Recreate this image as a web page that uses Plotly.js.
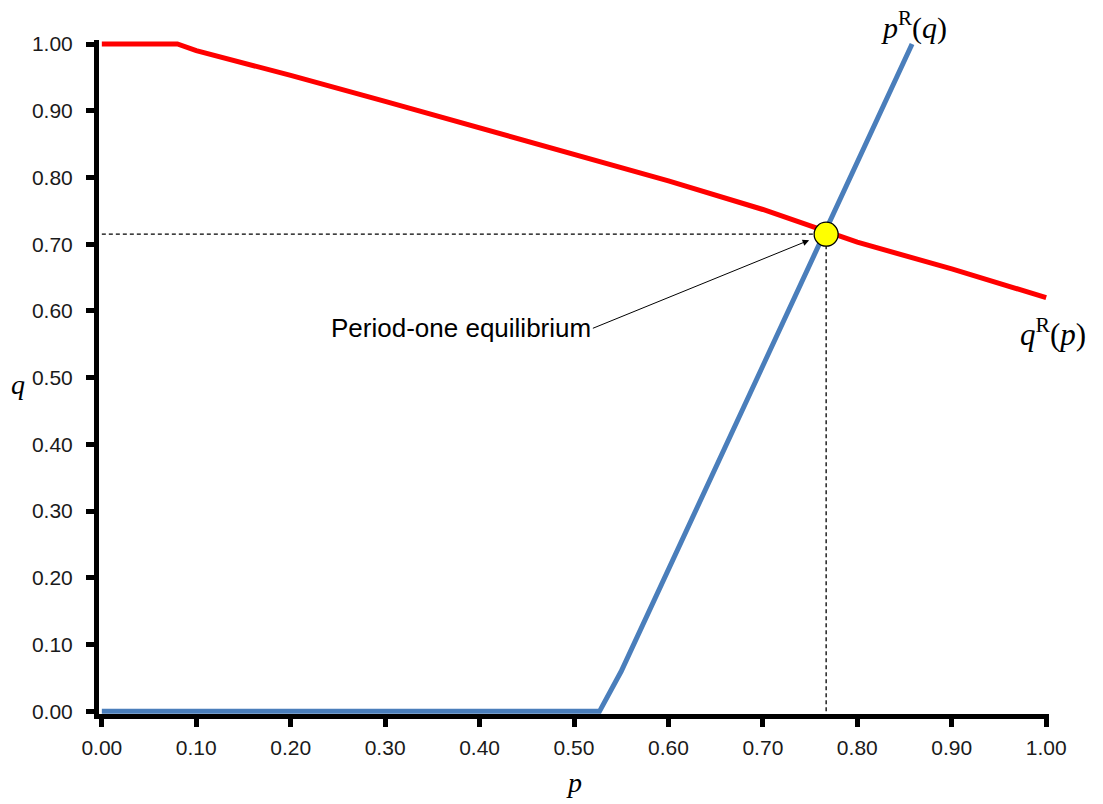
<!DOCTYPE html>
<html><head><meta charset="utf-8">
<script src="https://cdn.plot.ly/plotly-3.0.1.min.js"></script>
<style>body{margin:0;background:#fff}#chart{width:1103px;height:804px}</style>
</head><body><div id="chart"></div>
<script>
// Data
const qR_p = [0, 0.08, 0.10, 0.20, 0.30, 0.40, 0.50, 0.60, 0.70, 0.80, 0.90, 1.00];
const qR_q = [1.00, 1.00, 0.99, 0.953, 0.914, 0.874, 0.835, 0.795, 0.752, 0.703, 0.663, 0.620];
const pR_p = [0, 0.527, 0.55, 0.60, 0.70, 0.80, 0.858];
const pR_q = [0, 0, 0.06, 0.213, 0.518, 0.823, 1.00];
const eqP = [0.767];
const eqQ = [0.715];
const tickVals = [0, 0.1, 0.2, 0.3, 0.4, 0.5, 0.6, 0.7, 0.8, 0.9, 1.0];
const tickText = tickVals.map(v => v.toFixed(2));

const traces = [
  {x: [0, eqP[0]], y: [eqQ[0], eqQ[0]], mode: 'lines', line: {color: '#000', width: 1.3, dash: '4px,3px'}, hoverinfo: 'skip'},
  {x: [eqP[0], eqP[0]], y: [0, eqQ[0]], mode: 'lines', line: {color: '#000', width: 1.3, dash: '4px,3px'}, hoverinfo: 'skip'},
  {x: qR_p, y: qR_q, mode: 'lines', line: {color: '#ff0000', width: 5}, name: 'qR(p)'},
  {x: pR_p, y: pR_q, mode: 'lines', line: {color: '#4a7ebb', width: 5}, name: 'pR(q)'},
  {x: eqP, y: eqQ, mode: 'markers', marker: {color: '#ffff00', size: 24, line: {color: '#000', width: 1.3}}, cliponaxis: false}
];

const tickFont = {family: 'Liberation Sans, Arial, sans-serif', size: 21, color: '#1a1a1a'};
const plotW = 1103 - 99 - 54;
const layout = {
  width: 1103, height: 804,
  margin: {l: 99, r: 54, t: 40, b: 90},
  showlegend: false,
  paper_bgcolor: '#fff', plot_bgcolor: '#fff',
  xaxis: {range: [-0.003, 1.003], tickvals: tickVals, ticktext: tickText, showgrid: false, zeroline: false,
    showline: true, linecolor: '#000', linewidth: 5, ticks: 'outside', ticklen: 8, tickwidth: 5, tickcolor: '#000',
    tickfont: tickFont, ticklabelstandoff: 3, layer: 'below traces'},
  yaxis: {range: [-0.004, 1.006], tickvals: tickVals, ticktext: tickText, showgrid: false, zeroline: false,
    showline: true, linecolor: '#000', linewidth: 5, ticks: 'outside', ticklen: 8, tickwidth: 5, tickcolor: '#000',
    tickfont: tickFont, ticklabelstandoff: 9, layer: 'below traces'},
  annotations: [
    {text: 'Period-one equilibrium', x: 0.749, y: 0.706, ax: 0.52, ay: 0.574, axref: 'x', ayref: 'y',
     xref: 'x', yref: 'y', showarrow: true, arrowhead: 2, arrowsize: 1.3, arrowwidth: 1, arrowcolor: '#000',
     font: {family: 'Liberation Sans, Arial, sans-serif', size: 26, color: '#000'}, xanchor: 'right', yanchor: 'middle'},
    {text: '<i>p</i><sup>R</sup>(<i>q</i>)', x: 0.86, y: 1.0, xref: 'x', yref: 'y', xanchor: 'center', yanchor: 'bottom', yshift: -3, showarrow: false,
     font: {family: 'Liberation Serif, serif', size: 30, color: '#000'}},
    {text: '<i>q</i><sup>R</sup>(<i>p</i>)', x: (1053 - 99) / plotW, y: 0.568, xref: 'paper', yref: 'y', xanchor: 'center', showarrow: false,
     font: {family: 'Liberation Serif, serif', size: 31, color: '#000'}},
    {text: '<i>p</i>', x: 0.5, y: -0.075, xref: 'x', yref: 'paper', xanchor: 'center', yanchor: 'top', showarrow: false,
     font: {family: 'Liberation Serif, serif', size: 28, color: '#000'}},
    {text: '<i>q</i>', x: (18 - 99) / plotW, y: 0.49, xref: 'paper', yref: 'y', xanchor: 'center', showarrow: false,
     font: {family: 'Liberation Serif, serif', size: 28, color: '#000'}}
  ]
};

Plotly.newPlot('chart', traces, layout, {displayModeBar: false, staticPlot: true});
</script></body></html>
